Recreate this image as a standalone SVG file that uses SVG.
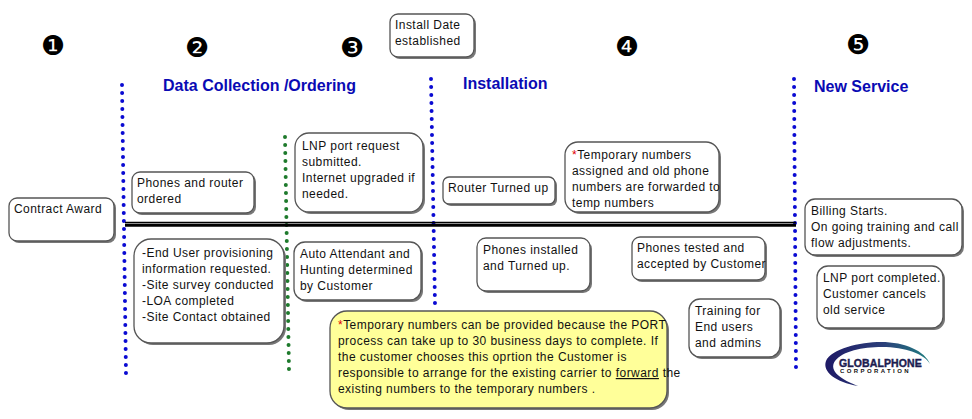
<svg xmlns="http://www.w3.org/2000/svg" width="972" height="419" viewBox="0 0 972 419">
<defs>
<linearGradient id="sw" x1="0" y1="0" x2="1" y2="0"><stop offset="0" stop-color="#1f1a66"/><stop offset="0.55" stop-color="#2b3f7a"/><stop offset="1" stop-color="#1f7f80"/></linearGradient>
</defs>
<style>
text{font-family:"Liberation Sans",Arial,sans-serif}
.b{fill:#fff;stroke:#555;stroke-width:1.3}
.y{fill:#ffff99;stroke:#555;stroke-width:1.3}
.s{fill:#777}
.t{font-size:12px;fill:#111;letter-spacing:.45px}
.h{font-size:16px;font-weight:bold;fill:#0a0ab4}
.n{font-family:"DejaVu Sans",sans-serif;font-size:27px;fill:#000}
.r{fill:#e00000}
.dot{fill:none;stroke:#0a0ad2;stroke-width:4;stroke-linecap:round;stroke-dasharray:0 8}
.grn{stroke:#1e7a2c}
</style>
<rect width="972" height="419" fill="#fff"/>
<g id="connectors">
<path class="dot" d="M122 85L126 375"/>
<path class="dot" d="M431 79L435 305"/>
<path class="dot" d="M794 79L796 370"/>
<path class="dot grn" d="M285 137L289 371"/>
<path d="M125 222.5H796" stroke="#000" stroke-width="1.4" fill="none"/>
<path d="M125 225.3H796" stroke="#000" stroke-width="3" fill="none"/>
</g>
<g id="num1"><text class="n" x="41" y="55">❶</text></g>
<g id="num2"><text class="n" x="185" y="57">❷</text></g>
<g id="num3"><text class="n" x="340" y="57">❸</text></g>
<g id="num4"><text class="n" x="615" y="56">❹</text></g>
<g id="num5"><text class="n" x="846" y="54">❺</text></g>
<g id="head-data"><text class="h" x="163" y="91">Data Collection /Ordering</text></g>
<g id="head-install"><text class="h" x="463" y="89">Installation</text></g>
<g id="head-new"><text class="h" x="814" y="92">New Service</text></g>
<g id="install-date"><rect class="s" x="392" y="16" width="84" height="43" rx="8"/><rect class="b" x="390" y="14" width="84" height="43" rx="8"/><text class="t" x="395" y="29">Install Date</text><text class="t" x="395" y="45">established</text></g>
<g id="contract"><rect class="s" x="11" y="200" width="105" height="43" rx="8"/><rect class="b" x="9" y="198" width="105" height="43" rx="8"/><text class="t" x="14" y="213">Contract Award</text></g>
<g id="phones-router"><rect class="s" x="134" y="174" width="122" height="41" rx="8"/><rect class="b" x="132" y="172" width="122" height="41" rx="8"/><text class="t" x="137" y="187">Phones and router</text><text class="t" x="137" y="203">ordered</text></g>
<g id="lnp-request"><rect class="s" x="297" y="135" width="128" height="79" rx="14"/><rect class="b" x="295" y="133" width="128" height="79" rx="14"/><text class="t" x="302" y="150">LNP port request</text><text class="t" x="302" y="166">submitted.</text><text class="t" x="302" y="182">Internet  upgraded if</text><text class="t" x="302" y="198">needed.</text></g>
<g id="router"><rect class="s" x="445" y="179" width="112" height="27" rx="6"/><rect class="b" x="443" y="177" width="112" height="27" rx="6"/><text class="t" x="448" y="192">Router Turned up</text></g>
<g id="temp"><rect class="s" x="567" y="144" width="154" height="70" rx="13"/><rect class="b" x="565" y="142" width="154" height="70" rx="13"/><text class="t" x="572" y="159"><tspan class="r">*</tspan>Temporary numbers</text><text class="t" x="572" y="175">assigned and old phone</text><text class="t" x="572" y="191">numbers are forwarded to</text><text class="t" x="572" y="207">temp numbers</text></g>
<g id="billing"><rect class="s" x="807" y="201" width="157" height="56" rx="10"/><rect class="b" x="805" y="199" width="157" height="56" rx="10"/><text class="t" x="811" y="215">Billing Starts.</text><text class="t" x="811" y="231">On going training and call</text><text class="t" x="811" y="247">flow adjustments.</text></g>
<g id="end-user"><rect class="s" x="136" y="241" width="150" height="104" rx="17"/><rect class="b" x="134" y="239" width="150" height="104" rx="17"/><text class="t" x="142" y="257">-End User provisioning</text><text class="t" x="142" y="273">information requested.</text><text class="t" x="142" y="289">-Site survey conducted</text><text class="t" x="142" y="305">-LOA completed</text><text class="t" x="142" y="321">-Site Contact obtained</text></g>
<g id="auto"><rect class="s" x="296" y="244" width="127" height="58" rx="11"/><rect class="b" x="294" y="242" width="127" height="58" rx="11"/><text class="t" x="300" y="258">Auto Attendant and</text><text class="t" x="300" y="274">Hunting determined</text><text class="t" x="300" y="290">by Customer</text></g>
<g id="phones-installed"><rect class="s" x="479" y="240" width="113" height="53" rx="9"/><rect class="b" x="477" y="238" width="113" height="53" rx="9"/><text class="t" x="483" y="254">Phones installed</text><text class="t" x="483" y="270">and Turned up.</text></g>
<g id="phones-tested"><rect class="s" x="634" y="239" width="133" height="43" rx="8"/><rect class="b" x="632" y="237" width="133" height="43" rx="8"/><text class="t" x="637" y="252">Phones tested and</text><text class="t" x="637" y="268">accepted by Customer</text></g>
<g id="lnp-completed"><rect class="s" x="819" y="268" width="126" height="62" rx="11"/><rect class="b" x="817" y="266" width="126" height="62" rx="11"/><text class="t" x="823" y="282">LNP port completed.</text><text class="t" x="823" y="298">Customer cancels</text><text class="t" x="823" y="314">old service</text></g>
<g id="training"><rect class="s" x="691" y="301" width="91" height="58" rx="11"/><rect class="b" x="689" y="299" width="91" height="58" rx="11"/><text class="t" x="695" y="315">Training for</text><text class="t" x="695" y="331">End users</text><text class="t" x="695" y="347">and admins</text></g>
<g id="note"><rect class="s" x="332" y="313" width="337" height="97" rx="17"/><rect class="y" x="330" y="311" width="337" height="97" rx="17"/><text class="t" x="338" y="329"><tspan class="r">*</tspan>Temporary numbers can be provided because the PORT</text><text class="t" x="338" y="345">process can take up to 30 business days to complete. If</text><text class="t" x="338" y="361">the customer chooses this oprtion the Customer is</text><text class="t" x="338" y="377">responsible to arrange for the existing carrier to <tspan text-decoration="underline">forward</tspan> the</text><text class="t" x="338" y="393">existing numbers to the temporary numbers .</text></g>
<g id="logo">
<path d="M858 386C836 382 822 372 826 361C831 349 860 342 881 342C905 342 925 351 930 364C925 354 905 347 882 347C862 347 843 351 835 361C828 371 842 380 858 386Z" fill="url(#sw)"/>
<text x="839" y="367" font-size="10.5" font-weight="900" fill="#1c1c50" stroke="#1c1c50" stroke-width=".4" letter-spacing=".1">GLOBALPHONE</text>
<text x="840" y="373" font-size="6" font-weight="bold" fill="#111" letter-spacing="2.4">CORPORATION</text>
</g>
</svg>
